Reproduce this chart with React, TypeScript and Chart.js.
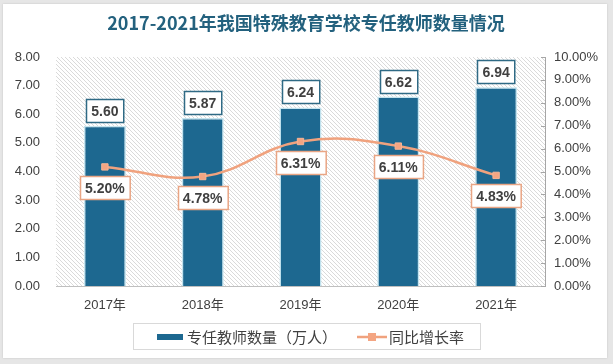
import React, { useEffect, useRef } from "react";
import { Chart, registerables } from "chart.js";

Chart.register(...registerables);

const title = "2017-2021年我国特殊教育学校专任教师数量情况";
const categories = ["2017年", "2018年", "2019年", "2020年", "2021年"];
const teachers = [5.6, 5.87, 6.24, 6.62, 6.94];
const growth = [5.2, 4.78, 6.31, 6.11, 4.83];
const barLabel = "专任教师数量（万人）";
const lineLabel = "同比增长率";

const BAR = "#1d6890";
const BAR_BORDER = "#c4e4ef";
const LINE = "#f0a27e";
const TEXT = "#404040";
const FONT = "'Liberation Sans', 'Noto Sans CJK SC', sans-serif";
const CJK = "'Noto Sans CJK SC', 'Liberation Sans', sans-serif";

function makeHatch(): CanvasPattern | string {
  const n = 4;
  const c = document.createElement("canvas");
  c.width = n;
  c.height = n;
  const g = c.getContext("2d");
  if (!g) return "#f2f2f2";
  g.fillStyle = "#ffffff";
  g.fillRect(0, 0, n, n);
  g.strokeStyle = "#dadada";
  g.lineWidth = 1;
  g.beginPath();
  g.moveTo(-1, -1);
  g.lineTo(n + 1, n + 1);
  g.moveTo(-1, n - 1);
  g.lineTo(1, n + 1);
  g.moveTo(n - 1, -1);
  g.lineTo(n + 1, 1);
  g.stroke();
  const p = g.createPattern(c, "repeat");
  return p || "#f2f2f2";
}

function box(ctx: CanvasRenderingContext2D, cx: number, top: number, text: string, border: string) {
  ctx.font = `bold 14px ${FONT}`;
  const w = ctx.measureText(text).width + 10;
  const h = 23;
  const x = Math.round(cx - w / 2) + 0.5;
  const y = Math.round(top) + 0.5;
  ctx.fillStyle = "#ffffff";
  ctx.fillRect(x, y, w, h);
  ctx.strokeStyle = border;
  ctx.lineWidth = 1.5;
  ctx.strokeRect(x, y, w, h);
  ctx.fillStyle = TEXT;
  ctx.textAlign = "center";
  ctx.textBaseline = "middle";
  ctx.fillText(text, cx, y + h / 2 + 1);
}

const decor = {
  id: "decor",
  beforeDraw(chart: any) {
    const { ctx, chartArea: a } = chart;
    ctx.save();
    ctx.fillStyle = makeHatch();
    ctx.fillRect(a.left, a.top, a.right - a.left, a.bottom - a.top);
    ctx.restore();
  },
  afterDraw(chart: any) {
    const { ctx, chartArea: a } = chart;
    ctx.save();
    // title
    ctx.font = `bold 18px ${CJK}`;
    ctx.fillStyle = "#23617e";
    ctx.textAlign = "center";
    ctx.textBaseline = "middle";
    ctx.fillText(title, 306, 23);

    // right axis inward ticks
    const y1 = chart.scales.y1;
    ctx.strokeStyle = "#a6a6a6";
    ctx.lineWidth = 1;
    y1.ticks.forEach((t: any) => {
      const yy = Math.round(y1.getPixelForValue(t.value)) + 0.5;
      ctx.beginPath();
      ctx.moveTo(a.right - 4, yy);
      ctx.lineTo(a.right, yy);
      ctx.stroke();
    });

    // data labels
    const mb = chart.getDatasetMeta(0);
    mb.data.forEach((el: any, i: number) => {
      box(ctx, el.x, el.y - 27, teachers[i].toFixed(2), "#2f6a85");
    });
    const ml = chart.getDatasetMeta(1);
    ml.data.forEach((el: any, i: number) => {
      box(ctx, el.x, el.y + 9, growth[i].toFixed(2) + "%", "#e9a584");
    });

    // legend
    ctx.strokeStyle = "#d9d9d9";
    ctx.lineWidth = 1;
    ctx.strokeRect(133.5, 323.5, 347, 26);
    ctx.fillStyle = BAR;
    ctx.fillRect(157, 334, 26, 6);
    ctx.font = `15px ${CJK}`;
    ctx.fillStyle = TEXT;
    ctx.textAlign = "left";
    ctx.textBaseline = "middle";
    ctx.fillText(barLabel, 187, 337);
    ctx.strokeStyle = LINE;
    ctx.lineWidth = 2.5;
    ctx.beginPath();
    ctx.moveTo(357, 337);
    ctx.lineTo(387, 337);
    ctx.stroke();
    ctx.fillStyle = "#f4a582";
    ctx.fillRect(368, 333, 8, 8);
    ctx.fillStyle = TEXT;
    ctx.fillText(lineLabel, 389, 337);
    ctx.restore();
  },
};

export default function App() {
  const ref = useRef<HTMLCanvasElement>(null);
  useEffect(() => {
    if (!ref.current) return;
    const chart = new Chart(ref.current, {
      type: "bar",
      data: {
        labels: categories,
        datasets: [
          {
            type: "bar",
            label: barLabel,
            data: teachers,
            backgroundColor: BAR,
            borderColor: BAR_BORDER,
            borderWidth: 1.5,
            barPercentage: 0.43,
            categoryPercentage: 1,
            yAxisID: "y",
            order: 2,
          } as any,
          {
            type: "line",
            label: lineLabel,
            data: growth,
            borderColor: LINE,
            borderWidth: 2.5,
            tension: 0.4,
            pointStyle: "rect",
            pointRadius: 4.5,
            pointBackgroundColor: "#f4a582",
            pointBorderColor: "#f6b596",
            pointBorderWidth: 1,
            yAxisID: "y1",
            order: 1,
          } as any,
        ],
      },
      options: {
        responsive: false,
        animation: false,
        devicePixelRatio: 1,
        layout: { padding: { top: 57, left: 0, right: 0, bottom: 0 } },
        plugins: {
          legend: { display: false },
          title: { display: false },
          tooltip: { enabled: false },
        },
        scales: {
          x: {
            grid: { display: false, drawTicks: false },
            border: { display: true, color: "#bfbfbf" },
            ticks: { color: TEXT, font: { size: 13, family: FONT }, padding: 12 },
            afterFit: (s: any) => {
              s.height = 78;
            },
          },
          y: {
            position: "left",
            min: 0,
            max: 8,
            grid: { display: false, drawTicks: false },
            border: { display: false },
            ticks: {
              stepSize: 1,
              color: TEXT,
              font: { size: 13, family: FONT },
              padding: 16,
              callback: (v: any) => Number(v).toFixed(2),
            },
            afterFit: (s: any) => {
              s.width = 56;
            },
          },
          y1: {
            position: "right",
            min: 0,
            max: 10,
            grid: { display: false, drawTicks: false },
            border: { display: true, color: "#a6a6a6" },
            ticks: {
              stepSize: 1,
              color: TEXT,
              font: { size: 13, family: FONT },
              padding: 9,
              callback: (v: any) => Number(v).toFixed(2) + "%",
            },
            afterFit: (s: any) => {
              s.width = 68;
            },
          },
        },
      },
      plugins: [decor],
    });
    return () => chart.destroy();
  }, []);

  return (
    <div style={{ position: "fixed", left: 0, top: 0, width: 613, height: 364, background: "#e6e6e6" }}>
      <div
        style={{
          position: "absolute",
          left: 3,
          top: 4,
          width: 604,
          height: 354,
          background: "#ffffff",
          boxShadow: "0 0 2px rgba(0,0,0,0.15)",
        }}
      />
      <canvas ref={ref} width={613} height={364} style={{ position: "absolute", left: 0, top: 0, width: 613, height: 364 }} />
    </div>
  );
}
